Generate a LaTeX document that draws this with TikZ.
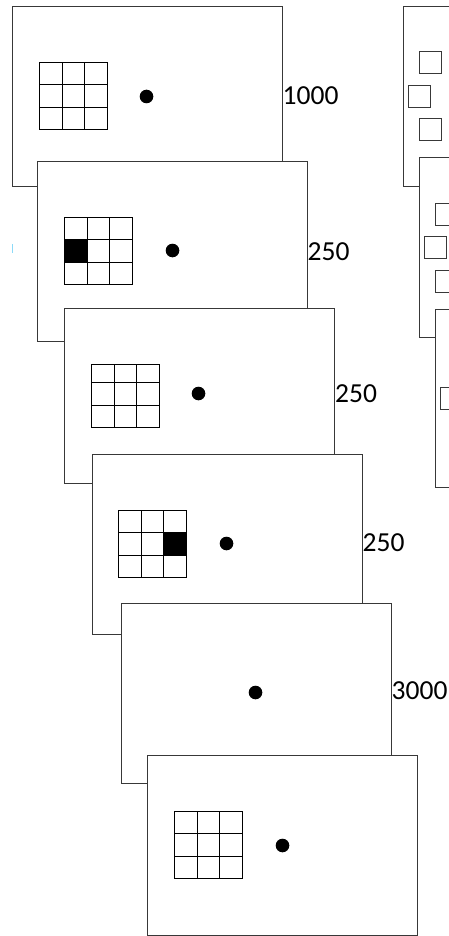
\documentclass[tikz,border=0pt]{standalone}
\usepackage{fontspec}
\setmainfont{Carlito}
\begin{document}
\begin{tikzpicture}[x=1pt,y=-1pt,
  screen/.style={draw=black!78, fill=white, line width=1.3pt, anchor=north west,
    inner sep=0pt, outer sep=0pt, minimum width=270pt, minimum height=180pt},
  gridline/.style={draw=black, line width=1.1pt},
  dot/.style={circle, fill=black, inner sep=0pt, minimum size=13.6pt},
  box/.style={draw=black!78, fill=white, line width=1.3pt, anchor=north west,
    inner sep=0pt, outer sep=0pt, minimum width=22pt, minimum height=22pt},
  lbl/.style={anchor=base west, inner sep=0pt, font=\fontsize{27.5}{30}\selectfont},
  cells/.pic={
    \draw[gridline] (0,0) rectangle (68,67)
      (23,0) -- (23,67) (45,0) -- (45,67)
      (0,22) -- (68,22) (0,45) -- (68,45);
  },
  flatcells/.pic={
    \draw[gridline] (0,0) rectangle (68,63)
      (23,0) -- (23,63) (45,0) -- (45,63)
      (0,18) -- (68,18) (0,41) -- (68,41);
  }
]
\useasboundingbox (0,0) rectangle (448,936);

% --- right-hand column of screens (partly cut off) ---
\node[screen] (r1) at (403.5,6.5) {};
\node[box] (r1a) at ([shift={(16,45)}]r1.north west) {};
\node[box] (r1b) at ([shift={(5,79)}]r1.north west) {};
\node[box] (r1c) at ([shift={(16,112)}]r1.north west) {};

\node[screen] (r2) at (419.5,157.5) {};
\node[box] (r2a) at ([shift={(16,46)}]r2.north west) {};
\node[box] (r2b) at ([shift={(5,79)}]r2.north west) {};
\node[box] (r2c) at ([shift={(16,113)}]r2.north west) {};

\node[screen, minimum height=178pt] (r3) at (435.5,309.5) {};
\node[box] (r3a) at ([shift={(16,45)}]r3.north west) {};
\node[box] (r3b) at ([shift={(5,78)}]r3.north west) {};
\node[box] (r3c) at ([shift={(16,112)}]r3.north west) {};

% --- main sequence of screens ---
% screen 1: fixation with empty grid
\node[screen] (f1) at (12.5,6.5) {};
\pic at ([shift={(27,56)}]f1.north west) {cells};
\node[dot] (d1) at ([shift={(134,90)}]f1.north west) {};
\node[lbl] (t1) at (282.5,105) {1000};

% screen 2: cue in middle-left cell
\node[screen] (f2) at (37.5,161.5) {};
\pic at ([shift={(27,56)}]f2.north west) {cells};
\fill ([shift={(27,78)}]f2.north west) rectangle ++(23,23);
\node[dot] (d2) at ([shift={(135,89)}]f2.north west) {};
\node[lbl] (t2) at (307.5,260) {250};

% screen 3: empty grid (slightly shorter screen)
\node[screen, minimum height=175pt] (f3) at (64.5,308.5) {};
\pic at ([shift={(27,56)}]f3.north west) {flatcells};
\node[dot] (d3) at ([shift={(134,85)}]f3.north west) {};
\node[lbl] (t3) at (335,402) {250};

% screen 4: cue in middle-right cell
\node[screen] (f4) at (92.5,454.5) {};
\pic at ([shift={(26,56)}]f4.north west) {cells};
\fill ([shift={(71,78)}]f4.north west) rectangle ++(23,23);
\node[dot] (d4) at ([shift={(134,89)}]f4.north west) {};
\node[lbl] (t4) at (362.5,551) {250};

% screen 5: fixation only
\node[screen] (f5) at (121.5,603.5) {};
\node[dot] (d5) at ([shift={(134,89)}]f5.north west) {};
\node[lbl] (t5) at (391.5,699) {3000};

% screen 6: probe grid
\node[screen] (f6) at (147.5,755.5) {};
\pic at ([shift={(27,56)}]f6.north west) {cells};
\node[dot] (d6) at ([shift={(135,90)}]f6.north west) {};

% small light-blue tick at the left margin
\draw[cyan!45!white, line width=1pt] (12.5,244) -- (12.5,253);
\end{tikzpicture}
\end{document}
